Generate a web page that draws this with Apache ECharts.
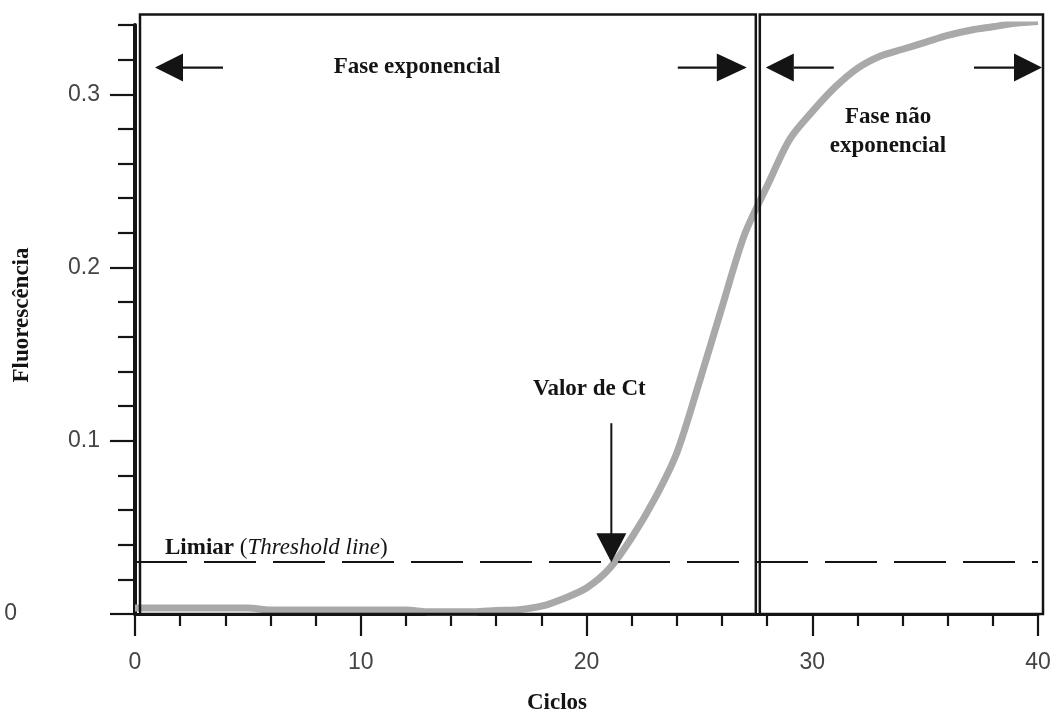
<!DOCTYPE html>
<html>
<head>
<meta charset="utf-8">
<script src="https://cdn.jsdelivr.net/npm/echarts@6/dist/echarts.min.js"></script>
<style>
  html, body { margin: 0; padding: 0; background: #ffffff; }
  #main { width: 1056px; height: 712px; }
</style>
</head>
<body>
<div id="main"></div>
<script>
// ---- data ----
const cycles = [0, 1, 2, 3, 4, 5, 6, 7, 8, 9, 10, 11, 12, 13, 14, 15, 16, 17, 18, 19, 20,
                21, 22, 23, 24, 25, 26, 27, 28, 29, 30, 31, 32, 33, 34, 35, 36, 37, 38, 39, 40];
const fluorescence = [0.0035, 0.0035, 0.0035, 0.0035, 0.0035, 0.0035, 0.0023, 0.0023, 0.0023, 0.0023, 0.0023,
                      0.0023, 0.0023, 0.0013, 0.0013, 0.0013, 0.0020, 0.0025, 0.0045, 0.0090, 0.0150,
                      0.0260, 0.0440, 0.0660, 0.0930, 0.1340, 0.1770, 0.2190, 0.2470, 0.2740, 0.2900,
                      0.3040, 0.3150, 0.3220, 0.3260, 0.3300, 0.3340, 0.3370, 0.3390, 0.3410, 0.3420];
const thresholdValue = 0.027;
const ctValue = 21.1;
const phaseSplit = 27.5;
const boxTopValue = 0.346;
const xTickLabels = [0, 10, 20, 30, 40];
const yMajorTicks = [0, 0.1, 0.2, 0.3];
const yMinorTicks = [0.02, 0.04, 0.06, 0.08, 0.12, 0.14, 0.16, 0.18, 0.22, 0.24, 0.26, 0.28, 0.32, 0.34];
const texts = {
  expPhase: 'Fase exponencial',
  nonExpPhase: 'Fase não\nexponencial',
  ct: 'Valor de Ct',
  thresholdBold: 'Limiar',
  thresholdItalic: 'Threshold line',
  xName: 'Ciclos',
  yName: 'Fluorescência'
};

const SERIF = '"Liberation Serif", "Times New Roman", serif';
const SANS = '"Liberation Sans", Helvetica, Arial, sans-serif';
const INK = '#141414';

const chart = echarts.init(document.getElementById('main'), null, { renderer: 'canvas' });

const option = {
  backgroundColor: '#ffffff',
  animation: false,
  grid: { left: 135, right: 18, top: 25, bottom: 98, containLabel: false },
  xAxis: {
    type: 'value',
    min: 0, max: 40, interval: 10,
    axisLine: { show: true, onZero: false, lineStyle: { color: INK, width: 3 } },
    axisTick: { show: true, length: 22, lineStyle: { color: INK, width: 2.2 } },
    minorTick: { show: true, splitNumber: 5, length: 12, lineStyle: { color: INK, width: 2.2 } },
    splitLine: { show: false },
    minorSplitLine: { show: false },
    axisLabel: {
      customValues: xTickLabels,
      margin: 37, fontSize: 23, color: '#444', fontFamily: SANS
    }
  },
  yAxis: [
    {
      type: 'value', position: 'left',
      min: 0, max: 0.34,
      axisLine: { show: true, onZero: false, lineStyle: { color: INK, width: 4 } },
      axisTick: { show: true, customValues: yMajorTicks, length: 25, lineStyle: { color: INK, width: 2.2 } },
      splitLine: { show: false },
      axisLabel: {
        customValues: yMajorTicks,
        margin: 35, fontSize: 23, color: '#444', fontFamily: SANS,
        formatter: function (v) { return v === 0 ? '{z|0}' : v.toFixed(1); },
        rich: { z: { fontSize: 23, color: '#444', fontFamily: SANS, padding: [0, 83, 0, 0] } }
      }
    },
    {
      type: 'value', position: 'left',
      min: 0, max: 0.34,
      axisLine: { show: false },
      axisTick: { show: true, customValues: yMinorTicks, length: 17, lineStyle: { color: INK, width: 2.2 } },
      splitLine: { show: false },
      axisLabel: { show: false }
    }
  ],
  series: [
    {
      type: 'line',
      xAxisIndex: 0, yAxisIndex: 0,
      data: cycles.map((c, i) => [c, fluorescence[i]]),
      showSymbol: false,
      smooth: 0.3,
      lineStyle: { color: '#a9a9a9', width: 7 },
      z: 3,
      markLine: {
        silent: true,
        symbol: ['none', 'none'],
        label: { show: false },
        lineStyle: { color: INK, width: 1.8, type: [52, 17] },
        data: [{ yAxis: thresholdValue }]
      }
    }
  ]
};

chart.setOption(option);

const px = (x, y) => chart.convertToPixel({ xAxisIndex: 0, yAxisIndex: 0 }, [x, y]);
const [xL, yB] = px(0, 0);
const [xS, yT] = px(phaseSplit, boxTopValue);
const [xR] = px(40, 0);
const [ctX, thrY] = px(ctValue, thresholdValue);

function arrow(tipX, y, dir, headLen, shaftLen) {
  // dir = -1 pointing left, +1 pointing right
  const baseX = tipX - dir * headLen;
  const endX = baseX - dir * shaftLen;
  return [
    { type: 'line', z: 20, shape: { x1: baseX, y1: y, x2: endX, y2: y }, style: { stroke: INK, lineWidth: 2.4 } },
    { type: 'polygon', z: 20, shape: { points: [[tipX, y], [baseX, y - 14], [baseX, y + 14]] }, style: { fill: INK } }
  ];
}

const box1L = xL + 5;
const box2L = xS + 4;
const box2R = xR + 5;
const arrowY = yT + 53;

const graphics = [
  { type: 'rect', z: 15, shape: { x: box1L, y: yT, width: xS - box1L, height: yB - yT },
    style: { fill: 'none', stroke: INK, lineWidth: 2.5 } },
  { type: 'rect', z: 15, shape: { x: box2L, y: yT, width: box2R - box2L, height: yB - yT },
    style: { fill: 'none', stroke: INK, lineWidth: 2.5 } },
  ...arrow(box1L + 15, arrowY, -1, 28, 40),
  ...arrow(xS - 9, arrowY, 1, 30, 39),
  ...arrow(box2L + 6, arrowY, -1, 28, 40),
  ...arrow(box2R - 1, arrowY, 1, 28, 40),
  // Ct arrow
  { type: 'line', z: 20, shape: { x1: ctX, y1: thrY - 144, x2: ctX, y2: thrY - 32 }, style: { stroke: INK, lineWidth: 2 } },
  { type: 'polygon', z: 20, shape: { points: [[ctX, thrY - 5], [ctX - 15, thrY - 34], [ctX + 15, thrY - 34]] }, style: { fill: INK } },
  // texts
  { type: 'text', z: 20, x: 417, y: 67,
    style: { text: texts.expPhase, font: 'bold 23px ' + SERIF, fill: INK, align: 'center', verticalAlign: 'middle' } },
  { type: 'text', z: 20, x: 888, y: 132,
    style: { text: texts.nonExpPhase, font: 'bold 23px ' + SERIF, fill: INK, align: 'center', verticalAlign: 'middle', lineHeight: 29 } },
  { type: 'text', z: 20, x: ctX - 22, y: 389,
    style: { text: texts.ct, font: 'bold 23px ' + SERIF, fill: INK, align: 'center', verticalAlign: 'middle' } },
  { type: 'text', z: 20, x: 165, y: thrY - 19,
    style: {
      text: '{b|' + texts.thresholdBold + '} {n|(}{i|' + texts.thresholdItalic + '}{n|)}',
      align: 'left', verticalAlign: 'middle',
      rich: {
        b: { font: 'bold 23px ' + SERIF, fill: INK },
        n: { font: '23px ' + SERIF, fill: INK },
        i: { font: 'italic 23px ' + SERIF, fill: INK }
      },
      font: '23px ' + SERIF, fill: INK
    } },
  { type: 'text', z: 20, x: 557, y: 703,
    style: { text: texts.xName, font: 'bold 23px ' + SERIF, fill: INK, align: 'center', verticalAlign: 'middle' } },
  { type: 'text', z: 20, x: 22, y: 315, rotation: Math.PI / 2,
    style: { text: texts.yName, font: 'bold 23px ' + SERIF, fill: INK, align: 'center', verticalAlign: 'middle' } }
];

chart.setOption({ graphic: graphics });
</script>
</body>
</html>
